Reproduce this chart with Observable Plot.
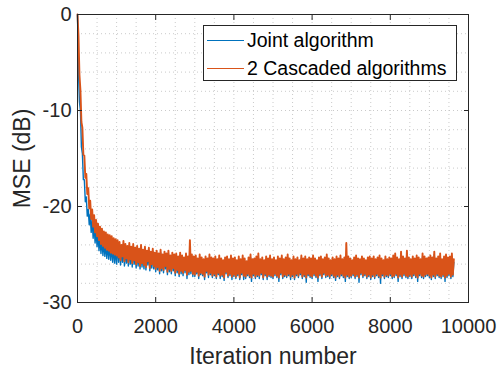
<!DOCTYPE html>
<html>
<head>
<meta charset="utf-8">
<script src="https://cdn.jsdelivr.net/npm/d3@7"></script>
<script src="https://cdn.jsdelivr.net/npm/@observablehq/plot@0.6"></script>
<style>
  html, body { margin: 0; padding: 0; background: #fff; }
  #wrap { position: relative; width: 498px; height: 368px; font-family: "Liberation Sans", Arial, sans-serif; }
  #wrap svg g[aria-label="x-axis label"], #wrap svg g[aria-label="y-axis label"] { font-size: 23px; }
  .legend { position: absolute; left: 203px; top: 25px; width: 252px; height: 54px; border: 1px solid #262626; background: #fff; }
  .legend .row { position: absolute; left: 0; height: 27px; line-height: 27px; font-size: 19.5px; color: #000; white-space: nowrap; }
  .legend .sw { position: absolute; left: 3px; top: 13px; width: 37px; height: 1.2px; }
  .legend .lab { position: absolute; left: 43px; top: 0; }
</style>
</head>
<body>
<div id="wrap"></div>
<script>
// ---- data ----
const seriesNames = ["Joint algorithm", "2 Cascaded algorithms"];
const seriesColors = ["#0072BD", "#D95319"];
const step = 25; // iterations between stored samples
const xTicks = [0, 2000, 4000, 6000, 8000, 10000];
const xMinor = [0, 500, 1000, 1500, 2000, 2500, 3000, 3500, 4000, 4500, 5000, 5500, 6000, 6500, 7000, 7500, 8000, 8500, 9000, 9500, 10000];
const yTicks = [-30, -20, -10, 0];
const yTickLabels = ["-30", "-20", "-10", "0"];
const yMinor = [-30, -28, -26, -24, -22, -20, -18, -16, -14, -12, -10, -8, -6, -4, -2, 0];

// MSE (dB), joint algorithm (one sample every `step` iterations)
const joint = [
  // 0 - 1000
  0, -6.0, -9.1, -10.0, -13.8, -14.5, -17.2, -17.2, -19.5, -19.0,
  -21.0, -20.3, -21.9, -20.8, -22.7, -21.4, -23.3, -21.9, -23.8, -22.4,
  -24.2, -22.8, -24.6, -23.1, -24.9, -23.3, -25.1, -23.5, -25.2, -23.7,
  -25.4, -23.8, -25.5, -23.9, -25.6, -24.0, -25.8, -24.1, -25.9, -24.3,
  -26.0,
  // 1025 - 1500
  -23.9, -25.8, -24.0, -26.1, -24.3, -25.8, -23.9, -26.2, -24.2, -25.9,
  -24.4, -26.2, -24.1, -26.0, -24.5, -26.3, -24.2, -26.0, -24.6,
  // 1525 - 2000
  -26.4, -24.4, -26.2, -24.7, -26.5, -24.3, -26.3, -24.8, -26.5, -24.5,
  -26.6, -24.9, -26.1, -24.6, -26.7, -25.0, -26.4, -24.7, -26.5, -25.1,
  // 2025 - 2500
  -26.8, -24.9, -26.6, -25.2, -27.0, -24.8, -26.7, -25.3, -26.9, -25.0,
  -26.5, -25.2, -27.1, -24.9, -26.8, -25.4, -27.0, -25.1, -26.7, -25.3,
  // 2525 - 3000
  -27.2, -25.2, -26.9, -25.5, -27.3, -25.1, -27.0, -25.4, -27.2, -25.6,
  -26.9, -25.2, -27.5, -25.5, -27.1, -25.3, -27.0, -25.3, -27.3, -25.5,
  // 3025 - 3500
  -27.3, -25.4, -27.0, -25.7, -27.5, -25.3, -27.1, -25.6, -27.2, -25.8,
  -27.6, -25.5, -26.9, -25.7, -27.4, -25.3, -27.1, -25.6, -27.4, -25.7,
  // 3525 - 4000
  -27.2, -25.5, -27.5, -25.8, -27.1, -25.4, -27.5, -25.7, -27.3, -25.9,
  -27.7, -25.6, -27.0, -25.5, -27.4, -25.8, -27.2, -25.4, -27.6, -25.7,
  // 4025 - 4500
  -27.3, -25.6, -27.5, -25.9, -27.2, -25.5, -27.6, -25.8, -27.1, -25.4,
  -27.6, -25.7, -27.5, -26.0, -27.2, -25.6, -27.4, -25.3, -27.8, -25.8,
  // 4525 - 5000
  -27.2, -25.7, -27.5, -25.5, -27.3, -25.2, -27.5, -25.8, -27.1, -25.6,
  -27.6, -25.9, -27.2, -25.5, -27.6, -25.7, -27.3, -25.4, -27.4, -25.8,
  // 5025 - 5500
  -27.5, -25.6, -27.2, -25.9, -27.4, -25.5, -27.8, -25.7, -27.1, -25.4,
  -27.5, -25.8, -27.3, -25.6, -27.4, -25.3, -27.2, -25.7, -27.6, -25.9,
  // 5525 - 6000
  -27.3, -25.5, -27.6, -25.8, -27.2, -25.6, -27.4, -25.9, -27.1, -25.4,
  -27.5, -25.7, -27.3, -25.5, -27.9, -25.8, -27.2, -25.6, -27.4, -25.7,
  // 6025 - 6500
  -27.5, -25.4, -27.2, -25.7, -27.4, -25.9, -27.8, -25.6, -27.2, -25.5,
  -27.5, -25.8, -27.1, -25.6, -27.4, -25.3, -27.3, -25.7, -27.5, -25.9,
  // 6525 - 7000
  -27.2, -25.6, -27.4, -25.8, -27.7, -25.5, -27.3, -25.7, -27.5, -25.4,
  -27.2, -25.8, -27.4, -25.6, -27.8, -25.5, -27.3, -25.5, -27.5, -25.7,
  // 7025 - 7500
  -27.4, -25.9, -27.2, -25.6, -27.5, -25.4, -27.3, -25.7, -27.9, -25.8,
  -27.1, -25.5, -27.4, -25.7, -27.2, -25.9, -27.5, -25.6, -27.3, -25.5,
  // 7525 - 8000
  -27.6, -25.7, -27.3, -25.5, -27.5, -25.8, -27.2, -25.6, -27.4, -25.4,
  -28.0, -25.7, -27.2, -25.9, -27.5, -25.5, -27.3, -25.8, -27.4, -25.6,
  // 8025 - 8500
  -27.2, -25.7, -27.5, -25.4, -27.4, -25.2, -27.2, -25.6, -27.8, -25.8,
  -27.3, -25.0, -27.5, -25.5, -27.2, -25.7, -27.4, -24.9, -27.5, -25.6,
  // 8525 - 9000
  -27.3, -25.8, -27.5, -25.5, -27.2, -25.7, -27.4, -25.4, -27.8, -25.6,
  -27.2, -25.8, -27.4, -25.2, -27.5, -25.5, -27.3, -25.7, -27.2, -25.6,
  // 9025 - 9500
  -27.4, -25.4, -27.6, -25.6, -27.3, -25.0, -27.5, -25.7, -27.2, -25.5,
  -27.4, -25.2, -27.5, -25.8, -27.3, -25.5, -27.8, -25.3, -27.4, -25.6,
  // 9525 - 9650
  -27.2, -25.5, -27.5, -25.2, -27.3, -25.8
];

// MSE (dB), two cascaded algorithms (one sample every `step` iterations)
const cascaded = [
  // 0 - 1000
  0, -2.2, -6.3, -7.9, -11.2, -11.8, -14.6, -14.7, -17.0, -16.6,
  -18.7, -18.1, -20.2, -19.4, -21.3, -20.3, -22.1, -20.9, -22.7, -21.4,
  -23.1, -21.8, -23.5, -22.1, -23.9, -22.3, -24.1, -22.6, -24.3, -22.7,
  -24.5, -22.9, -24.6, -23.0, -24.8, -23.1, -24.9, -23.3, -25.0, -23.4,
  -25.1,
  // 1025 - 1500
  -23.5, -25.3, -23.7, -25.6, -24.0, -25.2, -23.6, -25.7, -23.9, -25.4,
  -24.1, -25.8, -23.8, -25.5, -24.2, -25.9, -23.9, -25.6, -24.3,
  // 1525 - 2000
  -26.0, -24.1, -25.8, -24.4, -26.2, -24.0, -25.9, -24.5, -26.1, -24.2,
  -26.3, -24.6, -25.7, -24.3, -26.4, -24.7, -26.0, -24.4, -26.2, -24.8,
  // 2025 - 2500
  -26.5, -24.6, -26.3, -24.9, -26.7, -24.5, -26.4, -25.0, -26.6, -24.7,
  -26.2, -24.9, -26.8, -24.6, -26.5, -25.1, -26.7, -24.8, -26.4, -25.0,
  // 2525 - 3000
  -26.9, -24.9, -26.6, -25.2, -27.0, -24.8, -26.7, -25.1, -26.9, -25.3,
  -26.6, -24.9, -27.1, -25.2, -26.8, -23.5, -26.7, -25.0, -27.0, -25.2,
  // 3025 - 3500
  -27.1, -25.1, -26.8, -25.4, -27.2, -25.0, -26.9, -25.3, -27.0, -25.5,
  -27.3, -25.2, -26.7, -25.4, -27.1, -25.0, -26.9, -25.3, -27.2, -25.4,
  // 3525 - 4000
  -27.0, -25.2, -27.3, -25.5, -26.9, -25.1, -27.2, -25.4, -27.1, -25.6,
  -27.4, -25.3, -26.8, -25.2, -27.2, -25.5, -27.0, -25.1, -27.3, -25.4,
  // 4025 - 4500
  -27.1, -25.3, -27.3, -25.6, -27.0, -25.2, -27.4, -25.5, -26.9, -25.1,
  -27.2, -25.4, -27.3, -25.7, -27.0, -25.3, -27.2, -25.0, -27.4, -25.5,
  // 4525 - 5000
  -27.0, -25.4, -27.3, -25.2, -27.1, -24.9, -27.2, -25.5, -26.9, -25.3,
  -27.4, -25.6, -27.0, -25.2, -27.3, -25.4, -27.1, -25.1, -27.2, -25.5,
  // 5025 - 5500
  -27.3, -25.3, -27.0, -25.6, -27.2, -25.2, -27.4, -25.4, -26.9, -25.1,
  -27.3, -25.5, -27.1, -25.3, -27.2, -25.0, -27.0, -25.4, -27.3, -25.6,
  // 5525 - 6000
  -27.1, -25.2, -27.4, -25.5, -27.0, -25.3, -27.2, -25.6, -26.9, -25.1,
  -27.3, -25.4, -27.1, -25.2, -27.4, -25.5, -27.0, -25.3, -27.2, -25.4,
  // 6025 - 6500
  -27.3, -25.1, -27.0, -25.4, -27.2, -25.6, -27.4, -25.3, -27.0, -25.2,
  -27.3, -25.5, -26.9, -25.3, -27.2, -25.0, -27.1, -25.4, -27.3, -25.6,
  // 6525 - 7000
  -27.0, -25.3, -27.2, -25.5, -27.4, -25.2, -27.1, -25.4, -27.3, -25.1,
  -27.0, -25.5, -27.2, -25.3, -27.4, -23.8, -27.1, -25.2, -27.3, -25.4,
  // 7025 - 7500
  -27.2, -25.6, -27.0, -25.3, -27.3, -25.1, -27.1, -25.4, -27.4, -25.5,
  -26.9, -25.2, -27.2, -25.4, -27.0, -25.6, -27.3, -25.3, -27.1, -25.2,
  // 7525 - 8000
  -27.4, -25.4, -27.1, -25.2, -27.3, -25.5, -27.0, -25.3, -27.2, -25.1,
  -27.4, -25.4, -27.0, -25.6, -27.3, -25.2, -27.1, -25.5, -27.2, -25.3,
  // 8025 - 8500
  -27.0, -25.4, -27.3, -25.1, -27.2, -24.9, -27.0, -25.3, -27.4, -25.5,
  -27.1, -24.7, -27.3, -25.2, -27.0, -25.4, -27.2, -24.6, -27.3, -25.3,
  // 8525 - 9000
  -27.1, -25.5, -27.3, -25.2, -27.0, -25.4, -27.2, -25.1, -27.4, -25.3,
  -27.0, -25.5, -27.2, -24.9, -27.3, -25.2, -27.1, -25.4, -27.0, -25.3,
  // 9025 - 9500
  -27.2, -25.1, -27.4, -25.3, -27.1, -24.7, -27.3, -25.4, -27.0, -25.2,
  -27.2, -24.9, -27.3, -25.5, -27.1, -25.2, -27.4, -25.0, -27.2, -25.3,
  // 9525 - 9650
  -27.0, -25.2, -27.3, -24.9, -27.1, -25.5
];

const toRows = (arr, name) => arr.map((v, i) => ({iter: i * step, mse: v, series: name}));
const rowsJoint = toRows(joint, seriesNames[0]);
const rowsCasc = toRows(cascaded, seriesNames[1]);

const gridStyle = {stroke: "#bdbdbd", strokeOpacity: 1, strokeWidth: 0.8, strokeDasharray: "1,3"};
const axisColor = "#262626";

const chart = Plot.plot({
  width: 498,
  height: 368,
  marginLeft: 77,
  marginRight: 30,
  marginTop: 14,
  marginBottom: 66,
  style: {fontFamily: "'Liberation Sans', Arial, sans-serif", fontSize: "20px", color: axisColor, background: "#fff", overflow: "visible"},
  x: {domain: [0, 10000]},
  y: {domain: [-30, 0]},
  marks: [
    Plot.gridX(xMinor, gridStyle),
    Plot.gridY(yMinor, gridStyle),
    Plot.line(rowsJoint, {x: "iter", y: "mse", stroke: seriesColors[0], strokeWidth: 1.4}),
    Plot.line(rowsCasc, {x: "iter", y: "mse", stroke: seriesColors[1], strokeWidth: 1.9}),
    Plot.frame({stroke: axisColor, strokeWidth: 1}),
    Plot.axisX(xTicks, {anchor: "bottom", tickSize: -5, tickPadding: 21, stroke: axisColor, fill: "#262626",
      tickFormat: d => String(d), label: "Iteration number", labelAnchor: "center", labelArrow: "none", labelOffset: 61}),
    Plot.axisX(xTicks, {anchor: "top", tickSize: -5, stroke: axisColor, tickFormat: () => "", label: null}),
    Plot.axisY(yTicks, {anchor: "left", tickSize: -5, tickPadding: 11, stroke: axisColor, fill: "#262626",
      tickFormat: d => yTickLabels[yTicks.indexOf(d)], label: "MSE (dB)", labelAnchor: "center", labelArrow: "none", labelOffset: 64}),
    Plot.axisY(yTicks, {anchor: "right", tickSize: -5, stroke: axisColor, tickFormat: () => "", label: null})
  ]
});

const wrap = document.getElementById("wrap");
wrap.appendChild(chart);

// legend (overlaid inside the axes, as in the original)
const legend = document.createElement("div");
legend.className = "legend";
seriesNames.forEach((name, i) => {
  const row = document.createElement("div");
  row.className = "row";
  row.style.top = (1 + i * 27.5) + "px";
  const sw = document.createElement("div");
  sw.className = "sw";
  sw.style.background = seriesColors[i];
  const lab = document.createElement("span");
  lab.className = "lab";
  lab.textContent = name;
  row.appendChild(sw);
  row.appendChild(lab);
  legend.appendChild(row);
});
wrap.appendChild(legend);
</script>
</body>
</html>
